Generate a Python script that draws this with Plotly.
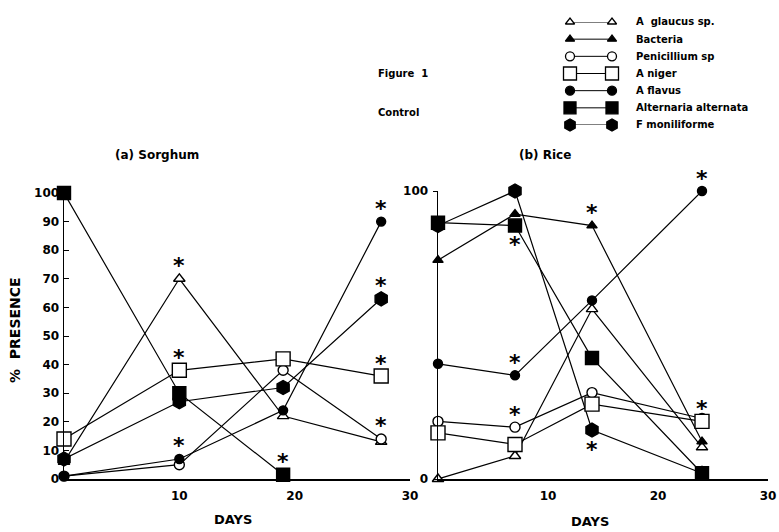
import plotly.graph_objects as go

W, H = 779, 532

series_names = ["A  glaucus sp.", "Bacteria", "Penicillium sp", "A niger", "A flavus",
                "Alternaria alternata", "F moniliforme"]

# (a) Sorghum
sorghum_days = [0, 10, 19, 27.5]
sorghum_values = {
    "A  glaucus sp.": [6, 70, 22, 13],
    "Bacteria": None,
    "Penicillium sp": [1, 5, 38, 14],
    "A niger": [14, 38, 42, 36],
    "A flavus": [1, 7, 24, 90],
    "Alternaria alternata": [100, 30, 1.5, None],
    "F moniliforme": [7, 27, 32, 63],
}
# (b) Rice
rice_days = [0, 7, 14, 24]
rice_values = {
    "A  glaucus sp.": [0, 8, 59, 11],
    "Bacteria": [76, 92, 88, 13],
    "Penicillium sp": [20, 18, 30, 21],
    "A niger": [16, 12, 26, 20],
    "A flavus": [40, 36, 62, 100],
    "Alternaria alternata": [89, 88, 42, 2],
    "F moniliforme": [88, 100, 17, 2],
}
# significance marks: (series, index of day, position)
sorghum_stars = [("A  glaucus sp.", 1, "above"), ("A niger", 1, "above"), ("A flavus", 1, "above"),
                 ("Alternaria alternata", 2, "above"), ("A flavus", 3, "above"),
                 ("F moniliforme", 3, "above"), ("A niger", 3, "above"), ("Penicillium sp", 3, "above")]
rice_stars = [("Alternaria alternata", 1, "below"), ("A flavus", 1, "above"), ("Penicillium sp", 1, "above"),
              ("Bacteria", 2, "above"), ("F moniliforme", 2, "below"), ("A flavus", 3, "above"),
              ("A niger", 3, "above")]

y_ticks_left = list(range(0, 101, 10))
x_ticks = [10, 20, 30]
y_ticks_right = [0, 100]

styles = {
    "A  glaucus sp.": dict(symbol="triangle-up", color="white", size=10, lsize=8),
    "Bacteria": dict(symbol="triangle-up", color="black", size=9, lsize=8),
    "Penicillium sp": dict(symbol="circle", color="white", size=10, lsize=9),
    "A niger": dict(symbol="square", color="white", size=14, lsize=13),
    "A flavus": dict(symbol="circle", color="black", size=9, lsize=9),
    "Alternaria alternata": dict(symbol="square", color="black", size=13, lsize=12),
    "F moniliforme": dict(symbol="hexagon", color="black", size=14, lsize=12),
}

FONT = "DejaVu Sans"
fig = go.Figure()


def add_panel(days, values, xa, ya):
    # lines first so every marker sits on top
    for name in series_names:
        vals = values[name]
        if vals is None:
            continue
        fig.add_trace(go.Scatter(x=days, y=vals, mode="lines", xaxis=xa, yaxis=ya,
                                 line=dict(color="black", width=1.2), showlegend=False,
                                 cliponaxis=False, hoverinfo="skip", connectgaps=False))
    for name in series_names:
        vals = values[name]
        if vals is None:
            continue
        st = styles[name]
        fig.add_trace(go.Scatter(x=days, y=vals, mode="markers", xaxis=xa, yaxis=ya, name=name,
                                 marker=dict(symbol=st["symbol"], color=st["color"], size=st["size"],
                                             line=dict(color="black", width=1.4)),
                                 showlegend=False, cliponaxis=False))


add_panel(sorghum_days, sorghum_values, "x", "y")
add_panel(rice_days, rice_values, "x2", "y2")

annotations = []


def add_stars(days, values, stars, xr, yr):
    for name, idx, pos in stars:
        annotations.append(dict(x=days[idx], y=values[name][idx], xref=xr, yref=yr, text="*",
                                xanchor="center", yanchor="middle",
                                showarrow=False, font=dict(family=FONT, size=22, color="black",
                                                           weight="bold"),
                                yshift=13 if pos == "above" else -19))


add_stars(sorghum_days, sorghum_values, sorghum_stars, "x", "y")
add_stars(rice_days, rice_values, rice_stars, "x2", "y2")

# legend drawn as a small key panel (marker - line - marker)
for i, name in enumerate(series_names):
    st = styles[name]
    fig.add_trace(go.Scatter(x=[0, 1], y=[i, i], mode="lines+markers", xaxis="x3", yaxis="y3",
                             line=dict(color="black", width=1),
                             marker=dict(symbol=st["symbol"], color=st["color"], size=st["lsize"],
                                         line=dict(color="black", width=1.3)),
                             showlegend=False, cliponaxis=False, hoverinfo="skip"))
    annotations.append(dict(x=634 / W, y=i, xref="paper", yref="y3", text=name, showarrow=False,
                            xanchor="left", yanchor="middle",
                            font=dict(family=FONT, size=10, color="black", weight="bold")))

txt = dict(family=FONT, color="black", weight="bold")
pa = dict(xref="paper", yref="paper", showarrow=False, yanchor="middle")
annotations += [
    dict(x=376 / W, y=1 - 73 / H, text="Figure  1", xanchor="left", font=dict(size=10, **txt), **pa),
    dict(x=376 / W, y=1 - 112 / H, text="Control", xanchor="left", font=dict(size=10, **txt), **pa),
    dict(x=157 / W, y=1 - 155 / H, text="(a) Sorghum", xanchor="center", font=dict(size=12, **txt), **pa),
    dict(x=545 / W, y=1 - 155 / H, text="(b) Rice", xanchor="center", font=dict(size=12, **txt), **pa),
    dict(x=233 / W, y=1 - 519 / H, text="DAYS", xanchor="center", font=dict(size=13, **txt), **pa),
    dict(x=590 / W, y=1 - 521 / H, text="DAYS", xanchor="center", font=dict(size=13, **txt), **pa),
    dict(x=15 / W, y=1 - 330 / H, text="%  PRESENCE", xanchor="center", textangle=-90,
         font=dict(size=14, **txt), **pa),
]

axis_common = dict(showgrid=False, zeroline=False, showline=True, linecolor="black", linewidth=1.5,
                   tickfont=dict(family=FONT, size=12, color="black", weight="bold"), fixedrange=True,
                   automargin=False)

fig.update_layout(
    width=W, height=H, margin=dict(l=0, r=0, t=0, b=0, pad=0, autoexpand=False),
    paper_bgcolor="white", plot_bgcolor="white", showlegend=False, hovermode=False,
    xaxis=dict(domain=[64 / W, 410 / W], range=[0, 30], tickvals=x_ticks, ticks="", anchor="y",
               ticklabelstandoff=5, **axis_common),
    yaxis=dict(domain=[1 - 479 / H, 1 - 193 / H], range=[0, 100], tickvals=y_ticks_left, ticks="inside",
               ticklen=5, tickcolor="black", anchor="x", ticklabelstandoff=1, **axis_common),
    xaxis2=dict(domain=[438 / W, 768 / W], range=[0, 30], tickvals=x_ticks, ticks="", anchor="y2",
                ticklabelstandoff=5, **axis_common),
    yaxis2=dict(domain=[1 - 479 / H, 1 - 191 / H], range=[0, 100], tickvals=y_ticks_right, ticks="outside",
                ticklen=4, tickcolor="black", anchor="x2", ticklabelstandoff=2, **axis_common),
    xaxis3=dict(domain=[570 / W, 612 / W], range=[0, 1], visible=False, fixedrange=True),
    yaxis3=dict(domain=[1 - 125 / H, 1 - 22 / H], range=[6, 0], visible=False, fixedrange=True,
                anchor="x3"),
    annotations=annotations,
)

fig.write_html("out.html", config={"displayModeBar": False, "staticPlot": True},
               post_script="document.body.style.margin='0';document.body.style.overflow='hidden';")
